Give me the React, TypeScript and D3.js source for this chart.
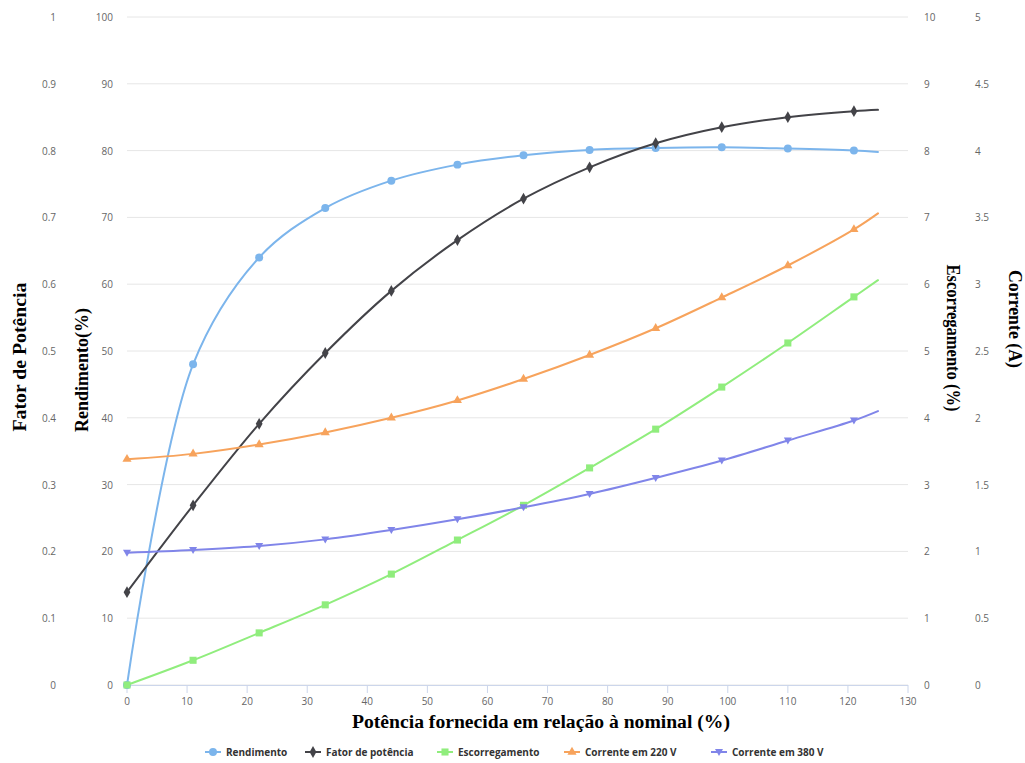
import React from 'react';
import * as d3 from 'd3';

// potencia fornecida (% da nominal)
const potencia = [0, 11, 22, 33, 44, 55, 66, 77, 88, 99, 110, 121, 125];
const rendimento = [0, 48.0, 64.0, 71.4, 75.5, 77.9, 79.3, 80.1, 80.4, 80.5, 80.3, 80.0, 79.8];
const fatorPotencia = [0.139, 0.269, 0.391, 0.497, 0.59, 0.666, 0.728, 0.775, 0.811, 0.835, 0.85, 0.859, 0.861];
const escorregamento = [0, 0.37, 0.78, 1.2, 1.66, 2.17, 2.69, 3.25, 3.83, 4.46, 5.12, 5.81, 6.06];
const corrente220 = [1.69, 1.73, 1.8, 1.89, 2.0, 2.13, 2.29, 2.47, 2.67, 2.9, 3.14, 3.41, 3.53];
const corrente380 = [0.99, 1.01, 1.04, 1.09, 1.16, 1.24, 1.33, 1.43, 1.55, 1.68, 1.83, 1.98, 2.05];

const xTicks = d3.range(0, 131, 10);
const fpTicks = d3.range(0, 11).map(i => i / 10);
const rendTicks = d3.range(0, 101, 10);
const escTicks = d3.range(0, 11);
const corrTicks = d3.range(0, 11).map(i => i / 2);

const W = 1025;
const H = 763;
const margin = { top: 17, right: 117, bottom: 78, left: 127 };

const App = () => {
  const x = d3.scaleLinear().domain([0, 130]).range([margin.left, W - margin.right]);
  const yRend = d3.scaleLinear().domain([0, 100]).range([H - margin.bottom, margin.top]);
  const yFp = d3.scaleLinear().domain([0, 1]).range([H - margin.bottom, margin.top]);
  const yEsc = d3.scaleLinear().domain([0, 10]).range([H - margin.bottom, margin.top]);
  const yCorr = d3.scaleLinear().domain([0, 5]).range([H - margin.bottom, margin.top]);

  const series = [
    { name: 'Rendimento', values: rendimento, y: yRend, color: '#7cb5ec', marker: d3.symbolCircle },
    { name: 'Fator de potência', values: fatorPotencia, y: yFp, color: '#434348', marker: d3.symbolDiamond },
    { name: 'Escorregamento', values: escorregamento, y: yEsc, color: '#90ed7d', marker: d3.symbolSquare },
    { name: 'Corrente em 220 V', values: corrente220, y: yCorr, color: '#f7a35c', marker: d3.symbolTriangle },
    { name: 'Corrente em 380 V', values: corrente380, y: yCorr, color: '#8085e9', marker: 'down' },
  ];

  const symPath = (m: any) => {
    if (m === 'down') return 'M-4,-3L4,-3L0,4Z';
    return d3.symbol().type(m).size(m === d3.symbolDiamond ? 40 : m === d3.symbolTriangle ? 36 : 50)();
  };

  const tickFont = { fontFamily: '"Open Sans", sans-serif', fontSize: 10, fill: '#666666' };
  const titleFont = { fontFamily: '"Liberation Serif", serif', fontSize: 18, fontWeight: 'bold' as const, fill: '#000', lengthAdjust: 'spacingAndGlyphs' };
  const bottom = H - margin.bottom;

  const legendX = [205, 305, 437, 564, 711];

  return (
    <svg width={W} height={H} style={{ position: 'absolute', left: 0, top: 0, background: '#fff' }}>
      {rendTicks.map(t => (
        <line key={'g' + t} x1={margin.left} x2={W - margin.right} y1={yRend(t)} y2={yRend(t)}
          stroke="#e6e6e6" strokeWidth={1} />
      ))}
      <line x1={margin.left} x2={W - margin.right} y1={bottom + 0.5} y2={bottom + 0.5} stroke="#ccd6eb" />
      {xTicks.map(t => (
        <g key={'x' + t}>
          <line x1={x(t)} x2={x(t)} y1={bottom} y2={bottom + 8} stroke="#ccd6eb" />
          <text x={x(t)} y={bottom + 20} textAnchor="middle" {...tickFont}>{t}</text>
        </g>
      ))}
      {fpTicks.map(t => (
        <text key={'fp' + t} x={56} y={yFp(t) + 4} textAnchor="end" {...tickFont}>{t}</text>
      ))}
      {rendTicks.map(t => (
        <text key={'r' + t} x={113} y={yRend(t) + 4} textAnchor="end" {...tickFont}>{t}</text>
      ))}
      {escTicks.map(t => (
        <text key={'e' + t} x={924} y={yEsc(t) + 4} textAnchor="start" {...tickFont}>{t}</text>
      ))}
      {corrTicks.map(t => (
        <text key={'c' + t} x={975} y={yCorr(t) + 4} textAnchor="start" {...tickFont}>{t}</text>
      ))}

      <text transform="translate(26,357) rotate(-90)" textAnchor="middle" textLength={149} {...titleFont}>Fator de Potência</text>
      <text transform="translate(88,370) rotate(-90)" textAnchor="middle" textLength={124} {...titleFont}>Rendimento(%)</text>
      <text transform="translate(947,338) rotate(90)" textAnchor="middle" textLength={147} {...titleFont}>Escorregamento (%)</text>
      <text transform="translate(1009,319) rotate(90)" textAnchor="middle" textLength={98} {...titleFont}>Corrente (A)</text>
      <text x={541} y={728} textAnchor="middle" textLength={378} {...titleFont}>
        Potência fornecida em relação à nominal (%)
      </text>

      {series.map(s => {
        const line = d3.line<number>()
          .x((d, i) => x(potencia[i]))
          .y(d => s.y(d))
          .curve(d3.curveCatmullRom.alpha(0.5));
        return (
          <g key={s.name}>
            <path d={line(s.values) || ''} fill="none" stroke={s.color} strokeWidth={2}
              strokeLinejoin="round" strokeLinecap="round" />
            {s.values.slice(0, -1).map((v, i) => (
              <path key={i} d={symPath(s.marker)} fill={s.color}
                transform={`translate(${x(potencia[i])},${s.y(v)})`} />
            ))}
          </g>
        );
      })}

      {series.map((s, i) => (
        <g key={'l' + s.name} transform={`translate(${legendX[i]},752)`}>
          <line x1={0} x2={16} y1={0} y2={0} stroke={s.color} strokeWidth={2} />
          <path d={symPath(s.marker)} fill={s.color} transform="translate(8,0)" />
          <text x={21} y={4} fontFamily='"Open Sans", sans-serif' fontSize={10} fontWeight="bold" fill="#333333">
            {s.name}
          </text>
        </g>
      ))}
    </svg>
  );
};

export default App;
